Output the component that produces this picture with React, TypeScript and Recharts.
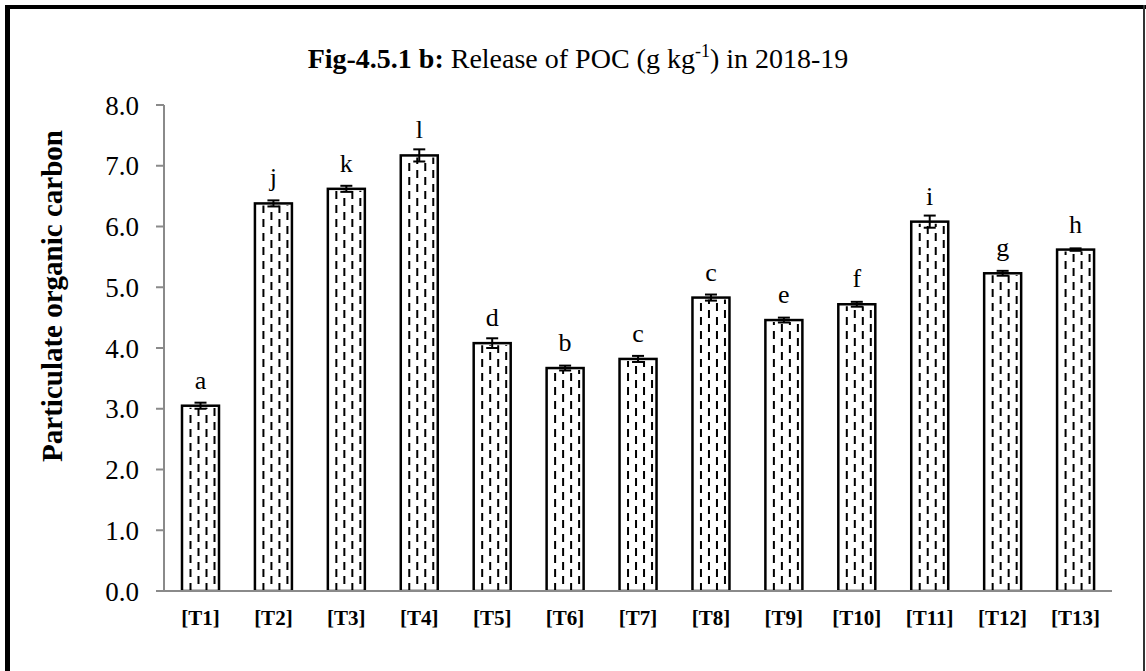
import React from 'react';
import { BarChart, Bar, XAxis, YAxis, ErrorBar, LabelList } from 'recharts';

// Treatments on the x axis
const treatments = ['[T1]', '[T2]', '[T3]', '[T4]', '[T5]', '[T6]', '[T7]', '[T8]', '[T9]', '[T10]', '[T11]', '[T12]', '[T13]'];
// Particulate organic carbon (g kg-1), 2018-19
const pocValues = [3.05, 6.38, 6.62, 7.17, 4.08, 3.67, 3.82, 4.83, 4.46, 4.72, 6.08, 5.23, 5.62];
// Standard errors
const pocErrors = [0.05, 0.05, 0.05, 0.1, 0.08, 0.04, 0.05, 0.05, 0.04, 0.04, 0.1, 0.04, 0.02];
// DMRT significance groups
const groupLetters = ['a', 'j', 'k', 'l', 'd', 'b', 'c', 'c', 'e', 'f', 'i', 'g', 'h'];
// Y axis ticks
const yTicks = [0, 1, 2, 3, 4, 5, 6, 7, 8];

const data = treatments.map((name, i) => ({
  name,
  poc: pocValues[i],
  err: pocErrors[i],
  group: groupLetters[i],
}));

const SERIF = '"Liberation Serif", "Times New Roman", Times, serif';
const AXIS_GREY = '#8a8a8a';

// Bar with white fill, vertical dashed hatching and a black outline
const DashedBar = (props: any) => {
  const { x, y, width, height } = props;
  if (!height || height <= 0) return null;
  const cols: number[] = [];
  for (let k = 0; k < 4; k++) {
    const cx = x + 8.5 + 8 * k;
    if (cx < x + width - 2) cols.push(cx);
  }
  return (
    <g>
      <rect x={x} y={y} width={width} height={height} fill="#fff" />
      {cols.map((cx, k) => (
        <line
          key={k}
          x1={cx}
          x2={cx}
          y1={y + height}
          y2={y + 2}
          stroke="#000"
          strokeWidth={2}
          strokeDasharray="8 6"
          strokeDashoffset={k % 2 === 0 ? 0 : 7}
        />
      ))}
      <rect x={x} y={y} width={width} height={height} fill="none" stroke="#000" strokeWidth={2.5} />
    </g>
  );
};

const YAxisTitle = (props: any) => {
  const vb = props.viewBox || {};
  const cx = (vb.x || 0) + 62;
  const cy = 296;
  return (
    <text
      x={cx}
      y={cy}
      transform={`rotate(-90, ${cx}, ${cy})`}
      textAnchor="middle"
      fontFamily={SERIF}
      fontWeight="bold"
      fontSize={29}
      fill="#000"
    >
      Particulate organic carbon
    </text>
  );
};

export default function App() {
  return (
    <div style={{ position: 'absolute', left: 0, top: 0, width: 1146, height: 671, background: '#fff', overflow: 'hidden' }}>
      {/* frame */}
      <div style={{ position: 'absolute', left: 5, top: 5, width: 5, height: 666, background: '#000' }} />
      <div style={{ position: 'absolute', left: 5, top: 5, width: 1141, height: 4, background: '#000' }} />
      <div style={{ position: 'absolute', left: 1143, top: 5, width: 2, height: 666, background: '#333' }} />

      <svg width={1146} height={671} style={{ position: 'absolute', left: 0, top: 0 }}>
        <text x={578} y={68} textAnchor="middle" fontFamily={SERIF} fontSize={28} fill="#000">
          <tspan fontWeight="bold">Fig-4.5.1 b:</tspan>
          <tspan> Release of POC (g kg</tspan>
          <tspan fontSize={18} dy={-11}>-1</tspan>
          <tspan dy={11}>) in 2018-19</tspan>
        </text>
      </svg>

      <div style={{ position: 'absolute', left: 0, top: 0 }}>
        <BarChart
          width={1146}
          height={671}
          data={data}
          margin={{ top: 105, right: 34, left: 0, bottom: 40 }}
          barSize={37}
        >
          <XAxis
            dataKey="name"
            height={40}
            axisLine={{ stroke: AXIS_GREY, strokeWidth: 2 }}
            tickLine={false}
            tickSize={0}
            tickMargin={19}
            interval={0}
            tick={{ fill: '#000', fontFamily: SERIF, fontWeight: 'bold', fontSize: 21 }}
          />
          <YAxis
            width={164}
            domain={[0, 8]}
            ticks={yTicks}
            interval={0}
            allowDataOverflow
            tickFormatter={(v: number) => v.toFixed(1)}
            axisLine={{ stroke: AXIS_GREY, strokeWidth: 2 }}
            tickLine={{ stroke: AXIS_GREY, strokeWidth: 2 }}
            tickSize={8}
            tickMargin={17}
            tick={{ fill: '#000', fontFamily: SERIF, fontSize: 27 }}
            label={<YAxisTitle />}
          />
          <Bar dataKey="poc" shape={<DashedBar />} isAnimationActive={false}>
            <ErrorBar dataKey="err" width={6} stroke="#000" strokeWidth={2} direction="y" />
            <LabelList
              dataKey="group"
              position="top"
              offset={17}
              fill="#000"
              fontFamily={SERIF}
              fontSize={26}
            />
          </Bar>
        </BarChart>
      </div>
    </div>
  );
}
